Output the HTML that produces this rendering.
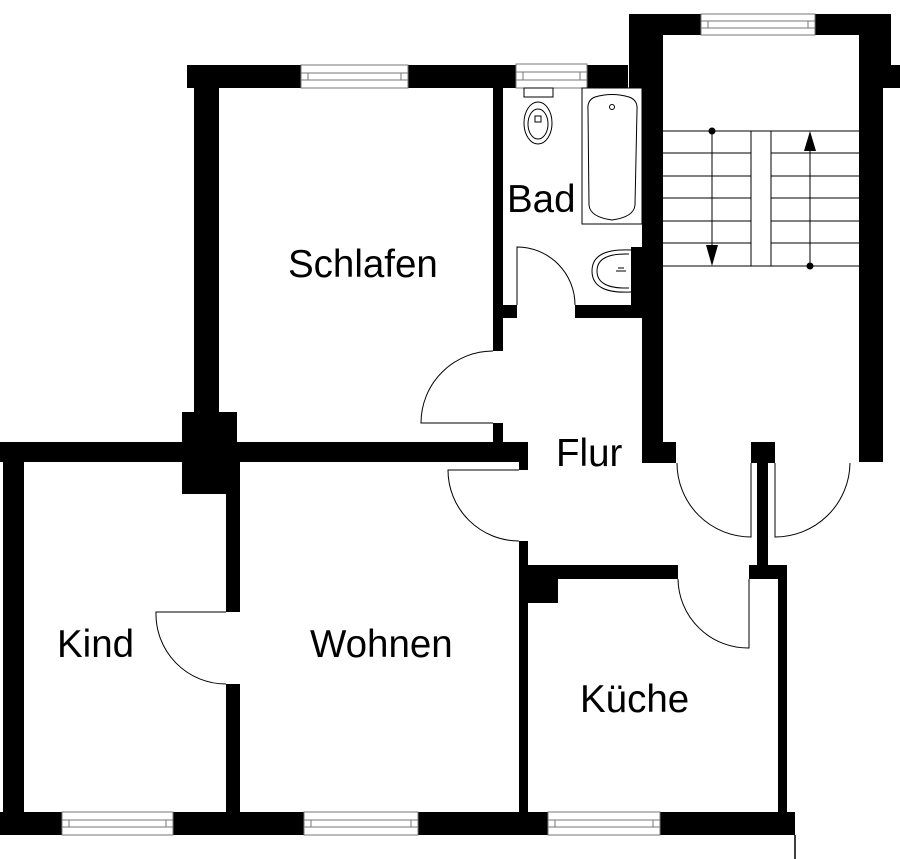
<!DOCTYPE html>
<html><head><meta charset="utf-8"><style>
html,body{margin:0;padding:0;background:#fff;}
svg{display:block}
text{font-family:"Liberation Sans",Arial,sans-serif;font-size:38.5px;fill:#000}
</style></head><body>
<svg width="900" height="859" viewBox="0 0 900 859" xmlns="http://www.w3.org/2000/svg">
<g fill="#000">
<rect x="187" y="65" width="441" height="23"/>
<rect x="629" y="14" width="262" height="21"/>
<rect x="629" y="14" width="34" height="74"/>
<rect x="642" y="14" width="21" height="449"/>
<rect x="642" y="442" width="34" height="21"/>
<rect x="859" y="14" width="24" height="448"/>
<rect x="883" y="14" width="8" height="52"/>
<rect x="883" y="65" width="17" height="23"/>
<rect x="194" y="65" width="25" height="380"/>
<rect x="182" y="412" width="55" height="82"/>
<rect x="0" y="442" width="528" height="20"/>
<rect x="519" y="442" width="9" height="28"/>
<rect x="493" y="88" width="10" height="263"/>
<rect x="493" y="423" width="10" height="20"/>
<rect x="493" y="305" width="24" height="13"/>
<rect x="575" y="305" width="67" height="13"/>
<rect x="631" y="247" width="11" height="60"/>
<rect x="3" y="442" width="21" height="393"/>
<rect x="226" y="462" width="14" height="150"/>
<rect x="226" y="684" width="14" height="130"/>
<rect x="519" y="541" width="9" height="273"/>
<rect x="519" y="565" width="159" height="14"/>
<rect x="519" y="565" width="39" height="38"/>
<rect x="749" y="565" width="35" height="14"/>
<rect x="778" y="565" width="9" height="250"/>
<rect x="757" y="442" width="11" height="124"/>
<rect x="751" y="442" width="24" height="21"/>
<rect x="0" y="812" width="795" height="23"/>
</g>
<line x1="795" y1="835" x2="795" y2="859" stroke="#000" stroke-width="1.5"/>

<g fill="#fff" stroke="#777" stroke-width="1">
<rect x="301" y="65" width="107" height="23"/>
<line x1="301" y1="73" x2="408" y2="73"/><line x1="301" y1="80" x2="408" y2="80"/>
<line x1="308" y1="73" x2="308" y2="80"/><line x1="401" y1="73" x2="401" y2="80"/>
<rect x="516" y="64" width="71" height="24"/>
<line x1="516" y1="72" x2="587" y2="72"/><line x1="516" y1="80" x2="587" y2="80"/>
<line x1="523" y1="72" x2="523" y2="80"/><line x1="580" y1="72" x2="580" y2="80"/>
<rect x="701" y="14" width="114" height="21"/>
<line x1="701" y1="21" x2="815" y2="21"/><line x1="701" y1="28" x2="815" y2="28"/>
<line x1="708" y1="21" x2="708" y2="28"/><line x1="808" y1="21" x2="808" y2="28"/>
<rect x="62" y="812" width="111" height="23"/>
<line x1="62" y1="820" x2="173" y2="820"/><line x1="62" y1="827" x2="173" y2="827"/>
<line x1="69" y1="820" x2="69" y2="827"/><line x1="166" y1="820" x2="166" y2="827"/>
<rect x="304" y="812" width="114" height="23"/>
<line x1="304" y1="820" x2="418" y2="820"/><line x1="304" y1="827" x2="418" y2="827"/>
<line x1="311" y1="820" x2="311" y2="827"/><line x1="411" y1="820" x2="411" y2="827"/>
<rect x="548" y="812" width="112" height="23"/>
<line x1="548" y1="820" x2="660" y2="820"/><line x1="548" y1="827" x2="660" y2="827"/>
<line x1="555" y1="820" x2="555" y2="827"/><line x1="653" y1="820" x2="653" y2="827"/>
</g>

<g fill="none" stroke="#000" stroke-width="1">
<path d="M493 423 H421 A72 72 0 0 1 493 351"/>
<path d="M517 305 V247 A58 58 0 0 1 575 305"/>
<path d="M519 470 H448 A71 71 0 0 0 519 541"/>
<path d="M226 612 H156 A70 70 0 0 0 226 684"/>
<path d="M749 579 V648 A70 70 0 0 1 678 579"/>
<path d="M751 463 V537 A74 74 0 0 1 677 463"/>
<path d="M775 463 V537 A75 75 0 0 0 850 463"/>
</g>

<g stroke="#000" stroke-width="1" fill="none">
<line x1="663" y1="131" x2="859" y2="131"/>
<line x1="663" y1="153" x2="751" y2="153"/><line x1="771" y1="153" x2="859" y2="153"/>
<line x1="663" y1="176" x2="751" y2="176"/><line x1="771" y1="176" x2="859" y2="176"/>
<line x1="663" y1="198" x2="751" y2="198"/><line x1="771" y1="198" x2="859" y2="198"/>
<line x1="663" y1="221" x2="751" y2="221"/><line x1="771" y1="221" x2="859" y2="221"/>
<line x1="663" y1="243" x2="751" y2="243"/><line x1="771" y1="243" x2="859" y2="243"/>
<line x1="663" y1="266" x2="859" y2="266"/>
<line x1="751" y1="131" x2="751" y2="266"/><line x1="771" y1="131" x2="771" y2="266"/>
<line x1="712" y1="131" x2="712" y2="255"/>
<line x1="810" y1="266" x2="810" y2="142"/>
</g>
<circle cx="712" cy="131" r="3.5"/>
<circle cx="810" cy="266" r="3.5"/>
<polygon points="706,245 718,245 712,266"/>
<polygon points="804,151 816,151 810,131"/>

<g fill="none" stroke="#000" stroke-width="1">
<rect x="582" y="88" width="60" height="136"/>
<path d="M595 97 Q612 92 629 97 Q638 100 637 110 L635 205 Q634 217 612 220 Q590 217 589 205 L588 110 Q587 100 595 97 Z"/>
<circle cx="612" cy="107" r="2.5"/>
<rect x="524" y="88" width="29" height="9"/>
<ellipse cx="538" cy="123" rx="14" ry="21"/>
<ellipse cx="538" cy="124" rx="10" ry="15"/>
<rect x="535" y="116" width="6" height="6"/>
<path d="M631 250 Q592 248 592 271 Q592 294 631 292"/>
<path d="M629 254 Q597 253 597 271 Q597 289 629 288"/>
<path d="M616 271 h10 M618 268 h6"/>
</g>

<text x="288" y="277">Schlafen</text>
<text x="507" y="212">Bad</text>
<text x="556" y="466">Flur</text>
<text x="57" y="657">Kind</text>
<text x="310" y="657">Wohnen</text>
<text x="580" y="712">Küche</text>
</svg>
</body></html>
